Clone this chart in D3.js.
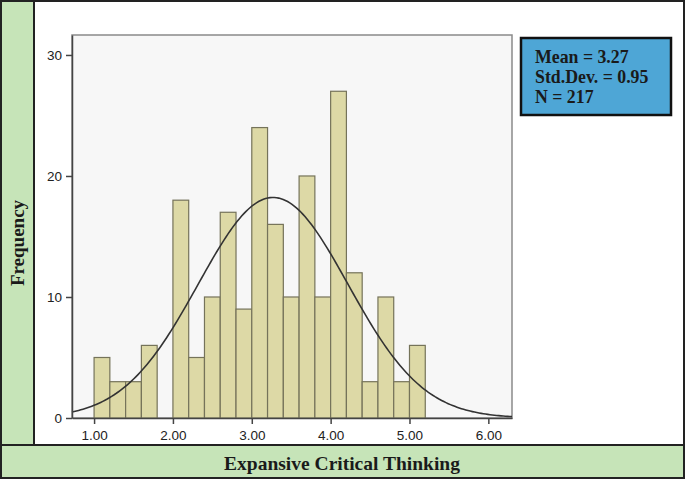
<!DOCTYPE html>
<html>
<head>
<meta charset="utf-8">
<script src="https://cdn.jsdelivr.net/npm/d3@7"></script>
<style>
  body { margin: 0; background: #fff; }
  svg { display: block; }
</style>
</head>
<body>
<script>
// data: histogram bins (lower edge, bin width 0.2) and counts
var binStart = [1.0, 1.2, 1.4, 1.6, 1.8, 2.0, 2.2, 2.4, 2.6, 2.8, 3.0, 3.2, 3.4, 3.6, 3.8, 4.0, 4.2, 4.4, 4.6, 4.8, 5.0];
var counts = [5, 3, 3, 6, 0, 18, 5, 10, 17, 9, 24, 16, 10, 20, 10, 27, 12, 3, 10, 3, 6];
var binWidth = 0.2;
var xTicks = [1, 2, 3, 4, 5, 6];
var yTicks = [0, 10, 20, 30];
var stats = ["Mean = 3.27", "Std.Dev. = 0.95", "N = 217"];
var mean = 3.27, sd = 0.95, n = 217;

var W = 685, H = 479;
var plot = { left: 72, right: 512, top: 35, bottom: 418 };

var svg = d3.select("body").append("svg")
    .attr("width", W)
    .attr("height", H);

// achtergrond panelen
svg.append("rect")
    .attr("x", 1).attr("y", 1)
    .attr("width", W - 2).attr("height", H - 2)
    .attr("fill", "#fff").attr("stroke", "#222").attr("stroke-width", 2);

svg.append("rect")
    .attr("x", 1).attr("y", 1)
    .attr("width", 33).attr("height", 444)
    .attr("fill", "#c6e4b8").attr("stroke", "#222").attr("stroke-width", 2);

svg.append("rect")
    .attr("x", 1).attr("y", 445)
    .attr("width", W - 2).attr("height", 33)
    .attr("fill", "#c6e4b8").attr("stroke", "#222").attr("stroke-width", 2);

// schalen
var x = d3.scaleLinear()
    .domain([0.72, 6.30])
    .range([plot.left, plot.right]);

var y = d3.scaleLinear()
    .domain([0, 31.65])
    .range([plot.bottom, plot.top]);

// plotvlak
svg.append("rect")
    .attr("x", plot.left).attr("y", plot.top)
    .attr("width", plot.right - plot.left)
    .attr("height", plot.bottom - plot.top)
    .attr("fill", "#f7f7f7")
    .attr("stroke", "#8a8a8a")
    .attr("stroke-width", 1.5);

// staven
svg.append("g")
    .selectAll("rect")
    .data(counts.map(function (c, i) { return { x0: binStart[i], value: c }; })
        .filter(function (d) { return d.value > 0; }))
    .enter().append("rect")
    .attr("x", function (d) { return x(d.x0); })
    .attr("y", function (d) { return y(d.value); })
    .attr("width", function (d) { return x(d.x0 + binWidth) - x(d.x0); })
    .attr("height", function (d) { return y(0) - y(d.value); })
    .attr("fill", "#ddd9a6")
    .attr("stroke", "#75735a")
    .attr("stroke-width", 1.2);

// normaalkromme
var curveX = d3.range(0, 201).map(function (i) {
    return 0.72 + (6.30 - 0.72) * i / 200;
});
var line = d3.line()
    .x(function (v) { return x(v); })
    .y(function (v) {
        var z = (v - mean) / sd;
        return y(n * binWidth / (sd * Math.sqrt(2 * Math.PI)) * Math.exp(-0.5 * z * z));
    });

svg.append("path")
    .datum(curveX)
    .attr("d", line)
    .attr("fill", "none")
    .attr("stroke", "#333")
    .attr("stroke-width", 1.6);

// assen
var xAxis = svg.append("g")
    .attr("transform", "translate(0," + plot.bottom + ")")
    .call(d3.axisBottom(x).tickValues(xTicks).tickSize(6).tickSizeOuter(0).tickFormat(d3.format(".2f")));

var yAxis = svg.append("g")
    .attr("transform", "translate(" + plot.left + ",0)")
    .call(d3.axisLeft(y).tickValues(yTicks).tickSize(6).tickSizeOuter(0).tickFormat(d3.format("d")));

[xAxis, yAxis].forEach(function (a) {
    a.select(".domain").attr("stroke", "#444").attr("stroke-width", 1.5);
    a.selectAll(".tick line").attr("stroke", "#444").attr("stroke-width", 1.5);
    a.selectAll(".tick text")
        .attr("fill", "#222")
        .attr("font-family", "Liberation Sans, Arial, sans-serif")
        .attr("font-size", 13.5);
});
xAxis.selectAll(".tick text").attr("dy", "0.95em");
yAxis.selectAll(".tick text").attr("x", -10);

// statistiekenvak
svg.append("rect")
    .attr("x", 521).attr("y", 38)
    .attr("width", 150).attr("height", 77)
    .attr("fill", "#4ea6d6")
    .attr("stroke", "#111")
    .attr("stroke-width", 2.5);

svg.append("g")
    .selectAll("text")
    .data(stats)
    .enter().append("text")
    .attr("x", 535)
    .attr("y", function (d, i) { return 63 + i * 20; })
    .attr("font-family", "Liberation Serif, Times New Roman, serif")
    .attr("font-weight", "bold")
    .attr("font-size", 17.8)
    .attr("fill", "#1a1a1a")
    .text(function (d) { return d; });

// astitels
svg.append("text")
    .attr("x", 342)
    .attr("y", 470)
    .attr("text-anchor", "middle")
    .attr("font-family", "Liberation Serif, Times New Roman, serif")
    .attr("font-weight", "bold")
    .attr("font-size", 19.5)
    .attr("fill", "#1a1a1a")
    .text("Expansive Critical Thinking");

svg.append("text")
    .attr("transform", "translate(24,243) rotate(-90)")
    .attr("text-anchor", "middle")
    .attr("font-family", "Liberation Serif, Times New Roman, serif")
    .attr("font-weight", "bold")
    .attr("font-size", 19)
    .attr("fill", "#1a1a1a")
    .text("Frequency");
</script>
</body>
</html>
